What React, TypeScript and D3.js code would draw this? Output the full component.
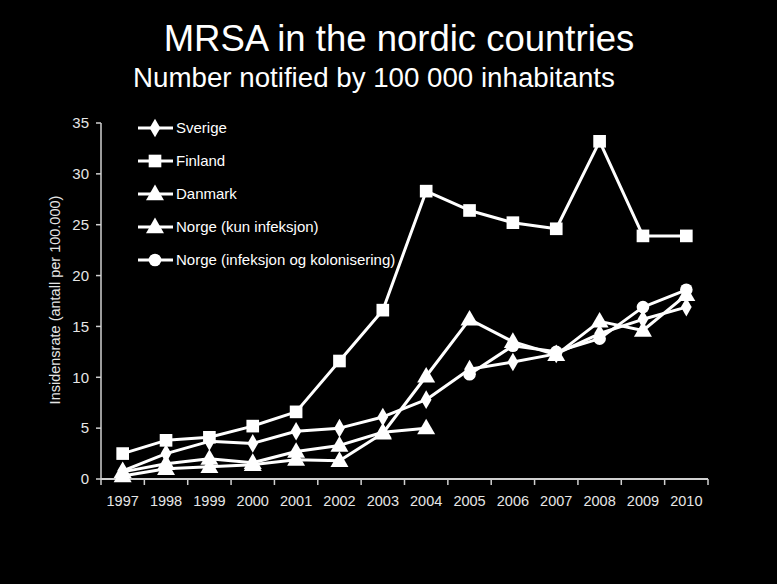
import React from "react";
import * as d3 from "d3";

const years = ["1997","1998","1999","2000","2001","2002","2003","2004","2005","2006","2007","2008","2009","2010"];
const sverige = [0.8, 2.5, 3.7, 3.5, 4.7, 5.0, 6.1, 7.8, 10.8, 11.5, 12.3, 14.3, 15.7, 16.9];
const finland = [2.5, 3.8, 4.1, 5.2, 6.6, 11.6, 16.6, 28.3, 26.4, 25.2, 24.6, 33.2, 23.9, 23.9];
const danmark = [0.3, 1.0, 1.2, 1.4, 1.9, 1.8, 4.5, 10.1, 15.7, 13.5, 12.2, 15.5, 14.6, 18.1];
const norgeKun = [0.7, 1.5, 2.0, 1.6, 2.7, 3.3, 4.6, 5.0];
const norgeKunYears = ["1997","1998","1999","2000","2001","2002","2003","2004"];
const norgeInfKol = [10.3, 13.1, 12.5, 13.8, 16.9, 18.6];
const norgeInfKolYears = ["2005","2006","2007","2008","2009","2010"];
const yTicks = [0, 5, 10, 15, 20, 25, 30, 35];
const legendLabels = ["Sverige", "Finland", "Danmark", "Norge (kun infeksjon)", "Norge (infeksjon og kolonisering)"];

type Shape = "diamond" | "square" | "triangle" | "circle";

const series: { name: string; xs: string[]; ys: number[]; shape: Shape }[] = [
  { name: legendLabels[0], xs: years, ys: sverige, shape: "diamond" },
  { name: legendLabels[1], xs: years, ys: finland, shape: "square" },
  { name: legendLabels[2], xs: years, ys: danmark, shape: "triangle" },
  { name: legendLabels[3], xs: norgeKunYears, ys: norgeKun, shape: "triangle" },
  { name: legendLabels[4], xs: norgeInfKolYears, ys: norgeInfKol, shape: "circle" },
];

const W = 777, H = 584;
const left = 101, right = 708, top = 123, bottom = 479;
const FONT = "'Liberation Sans', Arial, sans-serif";
const AXIS = "#d0d0d0";

function Marker({ shape, x, y }: { shape: Shape; x: number; y: number }) {
  const sym =
    shape === "diamond" ? d3.symbolDiamond :
    shape === "square" ? d3.symbolSquare :
    shape === "triangle" ? d3.symbolTriangle : d3.symbolCircle;
  const size =
    shape === "diamond" ? 100 :
    shape === "square" ? 160 :
    shape === "triangle" ? 140 : 125;
  const d = d3.symbol().type(sym).size(size)()!;
  const dy = shape === "triangle" ? 1 : 0;
  return <path d={d} transform={`translate(${x},${y + dy})`} fill="#ffffff" />;
}

export default function App() {
  const x = d3.scaleBand<string>().domain(years).range([left, right]);
  const y = d3.scaleLinear().domain([0, 35]).range([bottom, top]);
  const cx = (yr: string) => (x(yr) as number) + x.bandwidth() / 2;
  const line = d3.line<[number, number]>().x((p) => p[0]).y((p) => p[1]);

  const boundaries = years.map((yr) => x(yr) as number).concat([right]);

  return (
    <svg width={W} height={H} style={{ position: "fixed", left: 0, top: 0, background: "#000" }} fontFamily={FONT}>
      <rect x={0} y={0} width={W} height={H} fill="#000" />
      <text x={399} y={51} fill="#fff" fontSize={36.5} textAnchor="middle">MRSA in the nordic countries</text>
      <text x={374} y={87} fill="#fff" fontSize={27.7} textAnchor="middle">Number notified by 100 000 inhabitants</text>

      {/* y axis */}
      <line x1={left} x2={left} y1={top} y2={bottom} stroke={AXIS} strokeWidth={1.5} />
      {yTicks.map((t) => (
        <g key={t}>
          <line x1={left - 5} x2={left} y1={y(t)} y2={y(t)} stroke={AXIS} strokeWidth={1.5} />
          <text x={89} y={y(t)} dy="0.35em" fill="#e6e6e6" fontSize={15} textAnchor="end">{t}</text>
        </g>
      ))}
      <text transform={`translate(55,300) rotate(-90)`} fill="#e6e6e6" fontSize={14.5} textAnchor="middle" dy="0.35em">
        Insidensrate (antall per 100.000)
      </text>

      {/* x axis */}
      <line x1={left} x2={right} y1={bottom} y2={bottom} stroke={AXIS} strokeWidth={2} />
      {boundaries.map((b, i) => (
        <line key={i} x1={b} x2={b} y1={bottom} y2={bottom + 6} stroke={AXIS} strokeWidth={1.5} />
      ))}
      {years.map((yr) => (
        <text key={yr} x={cx(yr)} y={506} fill="#e6e6e6" fontSize={14.5} textAnchor="middle">{yr}</text>
      ))}

      {/* series */}
      {series.map((s) => {
        const pts: [number, number][] = s.xs.map((yr, i) => [cx(yr), y(s.ys[i])]);
        return (
          <g key={s.name}>
            <path d={line(pts)!} fill="none" stroke="#fff" strokeWidth={3} strokeLinejoin="round" />
            {pts.map((p, i) => <Marker key={i} shape={s.shape} x={p[0]} y={p[1]} />)}
          </g>
        );
      })}

      {/* legend */}
      {series.map((s, i) => {
        const ly = 128 + i * 33;
        return (
          <g key={s.name}>
            <line x1={138} x2={173} y1={ly} y2={ly} stroke="#fff" strokeWidth={3} />
            <Marker shape={s.shape} x={155} y={ly} />
            <text x={176} y={ly} dy="0.35em" fill="#fff" fontSize={15}>{s.name}</text>
          </g>
        );
      })}
    </svg>
  );
}
